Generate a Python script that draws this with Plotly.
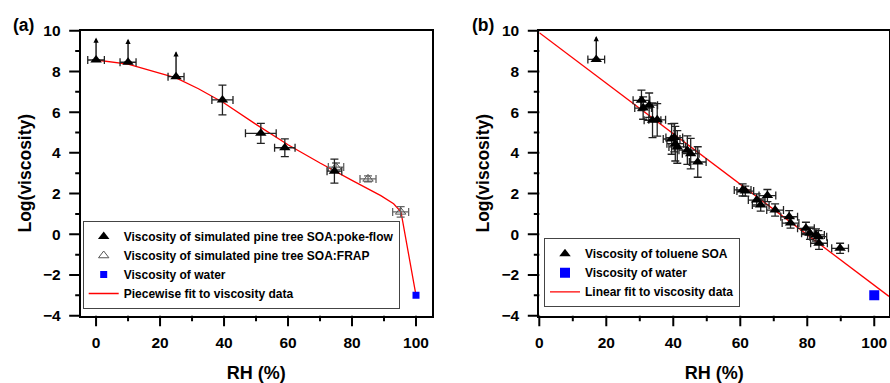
import plotly.graph_objects as go

# ---------------- Panel (a) data ----------------
a_pf_x = [0, 10, 25, 39.5, 51.5, 59, 74.5]
a_pf_y = [8.56, 8.45, 7.74, 6.6, 4.96, 4.25, 3.1]
a_pf_xerr = [2.6, 2.5, 2.5, 3.3, 4.8, 3.2, 2.3]
a_pf_yerr = [0, 0, 0, 0.73, 0.49, 0.44, 0.59]
a_pf_arrow = [1.1, 1.15, 1.25, 0, 0, 0, 0]   # lower-limit arrows

a_frap_x = [75, 85, 95.2]
a_frap_y = [3.3, 2.72, 1.1]
a_frap_xerr = [2.4, 2.5, 2.5]
a_frap_yerr = [0.2, 0.15, 0.26]

a_water_x = [100]
a_water_y = [-3.0]

a_fit_x = [0, 10, 25, 32, 40, 50, 60, 70, 80, 89, 93, 95.3, 100]
a_fit_y = [8.56, 8.36, 7.68, 7.15, 6.45, 5.4, 4.4, 3.5, 2.65, 1.9, 1.5, 1.1, -3.0]

# ---------------- Panel (b) data ----------------
b_x = [17, 30.5, 31.0, 32.8, 33.8, 35.2, 39.5, 40.3, 40.6, 41.2, 44.2, 45.2, 47.3,
       60.7, 61.5, 64.9, 66.1, 68.1, 70.4, 74.6, 75.0, 79.6, 80.8, 82.6, 83.3, 83.5, 89.8]
b_y = [8.59, 6.58, 6.2, 6.34, 5.6, 5.62, 4.68, 4.75, 4.45, 4.29, 4.13, 3.96, 3.55,
       2.18, 2.12, 1.68, 1.44, 1.9, 1.19, 0.86, 0.55, 0.29, 0.05, -0.03, -0.12, -0.44, -0.69]
b_xerr = [2.5] * len(b_x)
b_yerr = [0, 0.5, 0.55, 0.6, 0.85, 0.8, 0.75, 0.7, 0.85, 0.8, 0.7, 0.75, 0.75,
          0.3, 0.25, 0.3, 0.3, 0.3, 0.3, 0.3, 0.25, 0.3, 0.3, 0.3, 0.3, 0.3, 0.25]
b_arrow = [1.15] + [0] * (len(b_x) - 1)

b_water_x = [100]
b_water_y = [-3.0]

b_fit_x = [0, 104.4]
b_fit_y = [9.9, -3.05]

x_ticks = [0, 20, 40, 60, 80, 100]
x_minor_ticks = [10, 30, 50, 70, 90]
y_ticks = [-4, -2, 0, 2, 4, 6, 8, 10]
y_minor_ticks = [-3, -1, 1, 3, 5, 7, 9]

FONT = "Liberation Sans"
W, H = 890, 383

fig = go.Figure()

# ----- panel (a) traces -----
fig.add_trace(go.Scatter(x=a_fit_x, y=a_fit_y, mode="lines", line=dict(color="red", width=1.3),
                         name="Piecewise fit to viscosity data", xaxis="x", yaxis="y",
                         legend="legend", legendrank=4))
fig.add_trace(go.Scatter(x=a_frap_x, y=a_frap_y, mode="markers",
                         marker=dict(symbol="triangle-up-open", size=9, color="#555",
                                     line=dict(width=1, color="#555")),
                         error_x=dict(type="data", array=a_frap_xerr, color="#666", thickness=1.3, width=4),
                         error_y=dict(type="data", array=a_frap_yerr, color="#666", thickness=1.3, width=4),
                         name="Viscosity of simulated pine tree SOA:FRAP", xaxis="x", yaxis="y",
                         legend="legend", legendrank=2))
fig.add_trace(go.Scatter(x=a_pf_x, y=a_pf_y, mode="markers",
                         marker=dict(symbol="triangle-up", size=10, color="black"),
                         error_x=dict(type="data", array=a_pf_xerr, color="#222", thickness=1.3, width=4),
                         error_y=dict(type="data", array=a_pf_yerr, color="#222", thickness=1.3, width=4),
                         name="Viscosity of simulated pine tree SOA:poke-flow", xaxis="x", yaxis="y",
                         legend="legend", legendrank=1))
fig.add_trace(go.Scatter(x=a_water_x, y=a_water_y, mode="markers",
                         marker=dict(symbol="square", size=7, color="blue"),
                         name="Viscosity of water", xaxis="x", yaxis="y",
                         legend="legend", legendrank=3))

# ----- panel (b) traces -----
fig.add_trace(go.Scatter(x=b_fit_x, y=b_fit_y, mode="lines", line=dict(color="red", width=1.3),
                         name="Linear fit to viscosity data", xaxis="x2", yaxis="y2",
                         legend="legend2", legendrank=3))
fig.add_trace(go.Scatter(x=b_x, y=b_y, mode="markers",
                         marker=dict(symbol="triangle-up", size=10, color="black"),
                         error_x=dict(type="data", array=b_xerr, color="#222", thickness=1.3, width=4),
                         error_y=dict(type="data", array=b_yerr, color="#222", thickness=1.3, width=4),
                         name="Viscosity of toluene SOA", xaxis="x2", yaxis="y2",
                         legend="legend2", legendrank=1))
fig.add_trace(go.Scatter(x=b_water_x, y=b_water_y, mode="markers",
                         marker=dict(symbol="square", size=10, color="blue"),
                         name="Viscosity of water", xaxis="x2", yaxis="y2",
                         legend="legend2", legendrank=2))

annotations = []
for xs, ys, ar, xr, yr in [(a_pf_x, a_pf_y, a_pf_arrow, "x", "y"), (b_x, b_y, b_arrow, "x2", "y2")]:
    for xv, yv, av in zip(xs, ys, ar):
        if av > 0:
            annotations.append(dict(x=xv, y=yv + av, ax=xv, ay=yv, xref=xr, yref=yr,
                                    axref=xr, ayref=yr, showarrow=True, arrowhead=2,
                                    arrowsize=0.8, arrowwidth=1.3, arrowcolor="black", text=""))

# Tick marks drawn as head-less annotation arrows anchored on the axis scale
# (the native outside tick marks are not visible in this renderer).
MAJ_X, MIN_X, MAJ_Y, MIN_Y = 11, 6, 12, 6
for xr, yr in [("x", "y"), ("x2", "y2")]:
    for vals, ln in [(x_ticks, MAJ_X), (x_minor_ticks, MIN_X)]:
        for v in vals:
            annotations.append(dict(x=v, xref=xr, y=0, yref=yr + " domain", text="",
                                    showarrow=True, arrowhead=0, arrowwidth=2, arrowcolor="black",
                                    ax=0, ay=ln, standoff=0, startstandoff=0, borderpad=0,
                                    font=dict(size=1)))
    for vals, ln in [(y_ticks, MAJ_Y), (y_minor_ticks, MIN_Y)]:
        for v in vals:
            annotations.append(dict(x=0, xref=xr + " domain", y=v, yref=yr, text="",
                                    showarrow=True, arrowhead=0, arrowwidth=2, arrowcolor="black",
                                    ax=-ln, ay=0, standoff=0, startstandoff=0, borderpad=0,
                                    font=dict(size=1)))

annotations.append(dict(text="(a)", x=11 / W, y=1 - 24.5 / H, xref="paper", yref="paper",
                        xanchor="left", yanchor="middle", showarrow=False,
                        font=dict(family=FONT, size=17.5, color="black", weight="bold")))
annotations.append(dict(text="(b)", x=470 / W, y=1 - 24.5 / H, xref="paper", yref="paper",
                        xanchor="left", yanchor="middle", showarrow=False,
                        font=dict(family=FONT, size=17.5, color="black", weight="bold")))

ydom = [(H - 315.7) / H, (H - 30.7) / H]
xdom_a = [80.7 / W, 432 / W]
xdom_b = [539.3 / W, 889 / W]


def xaxis(dom, rng, anchor):
    return dict(domain=dom, range=rng, anchor=anchor, ticks="outside",
                ticklen=10, tickwidth=2, tickcolor="rgba(0,0,0,0)", showline=True, linewidth=2,
                linecolor="black", mirror=True, showgrid=False, zeroline=False,
                tickmode="array", tickvals=x_ticks, ticklabelstandoff=2,
                tickfont=dict(family=FONT, size=15.5, color="black", weight="bold"),
                title=dict(text="RH (%)", standoff=20,
                           font=dict(family=FONT, size=18, color="black", weight="bold")),
                automargin=False)


def yaxis(dom, anchor):
    return dict(domain=dom, range=[y_ticks[0], y_ticks[-1]], anchor=anchor, ticks="outside",
                ticklen=11, tickwidth=2, tickcolor="rgba(0,0,0,0)", showline=True, linewidth=2,
                linecolor="black", mirror=True, showgrid=False, zeroline=False,
                tickmode="array", tickvals=y_ticks, ticklabelstandoff=4,
                tickfont=dict(family=FONT, size=15.5, color="black", weight="bold"),
                title=dict(text="Log(viscosity)", standoff=7,
                           font=dict(family=FONT, size=17.5, color="black", weight="bold")),
                automargin=False)


legfont = dict(family=FONT, size=12, color="black", weight="bold")
fig.update_layout(
    template="none",
    width=W, height=H, margin=dict(l=0, r=0, t=0, b=0, pad=0),
    paper_bgcolor="white", plot_bgcolor="white",
    xaxis=xaxis(xdom_a, [-4.8, 105], "y"),
    yaxis=yaxis(ydom, "x"),
    xaxis2=xaxis(xdom_b, [0, 104.4], "y2"),
    yaxis2=yaxis(ydom, "x2"),
    legend=dict(x=82.7 / W, y=(H - 309) / H, xanchor="left", yanchor="bottom",
                bgcolor="white", bordercolor="#444", borderwidth=1, font=legfont,
                traceorder="normal"),
    legend2=dict(x=544 / W, y=(H - 307.3) / H, xanchor="left", yanchor="bottom",
                 bgcolor="white", bordercolor="#444", borderwidth=1, font=legfont,
                 traceorder="normal"),
    annotations=annotations,
    showlegend=True,
)

fig.write_html("out.html", config={"displayModeBar": False, "staticPlot": True},
               post_script="document.body.style.margin='0';document.body.style.overflow='hidden';")
